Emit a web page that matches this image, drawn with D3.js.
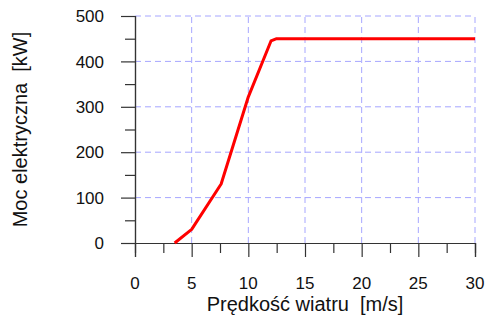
<!DOCTYPE html>
<html>
<head>
<meta charset="utf-8">
<script src="https://cdn.jsdelivr.net/npm/d3@7"></script>
<style>
  body { margin: 0; background: #fff; }
  text { font-family: "Liberation Sans", Arial, sans-serif; }
</style>
</head>
<body>
<svg id="chart" width="485" height="320"></svg>
<script>
// wind speed [m/s] and electrical power [kW]
const speed = [3.5, 5, 7.6, 10, 12, 12.5, 30];
const power = [0, 30, 130, 322, 445, 450, 450];
const xTicks = [0, 5, 10, 15, 20, 25, 30];
const yTicks = [0, 100, 200, 300, 400, 500];

const svg = d3.select("#chart"),
      margin = {top: 16, right: 10, bottom: 77, left: 135},
      width = +svg.attr("width"),
      height = +svg.attr("height");

const x = d3.scaleLinear().domain([0, 30]).range([margin.left, width - margin.right]);
const y = d3.scaleLinear().domain([0, 500]).range([height - margin.bottom, margin.top]);

const gridColor = "#a6a6ff";
const tickFont = 17;
const titleFont = 20;

// dashed grid
svg.append("g").selectAll("line")
    .data(xTicks.slice(1))
    .join("line")
    .attr("x1", d => x(d)).attr("x2", d => x(d))
    .attr("y1", y(0)).attr("y2", y(500))
    .attr("stroke", gridColor)
    .attr("stroke-dasharray", "6,4");

svg.append("g").selectAll("line")
    .data(yTicks.slice(1))
    .join("line")
    .attr("x1", x(0)).attr("x2", x(30))
    .attr("y1", d => y(d)).attr("y2", d => y(d))
    .attr("stroke", gridColor)
    .attr("stroke-dasharray", "6,4");

// x axis: major ticks every 5, minor every 2.5
const xAxis = d3.axisBottom(x).tickValues(xTicks).tickSize(14).tickFormat("");
const xAxisMinor = d3.axisBottom(x).tickValues(d3.range(2.5, 30, 5)).tickSize(10).tickFormat("");

const gx = svg.append("g")
    .attr("transform", `translate(0,${y(0)})`)
    .call(xAxis);
const gxm = svg.append("g")
    .attr("transform", `translate(0,${y(0)})`)
    .call(xAxisMinor);

// y axis: major ticks every 100, minor every 50
const yAxis = d3.axisLeft(y).tickValues(yTicks).tickSize(14).tickFormat("");
const yAxisMinor = d3.axisLeft(y).tickValues(d3.range(50, 500, 100)).tickSize(10).tickFormat("");

const gy = svg.append("g")
    .attr("transform", `translate(${x(0)},0)`)
    .call(yAxis);
const gym = svg.append("g")
    .attr("transform", `translate(${x(0)},0)`)
    .call(yAxisMinor);

[gx, gxm, gy, gym].forEach(g => {
    g.select(".domain").attr("stroke", "#333").attr("stroke-width", 1.2);
    g.selectAll(".tick line").attr("stroke", "#333").attr("stroke-width", 1.2);
});

// tick labels
svg.append("g").selectAll("text")
    .data(xTicks)
    .join("text")
    .attr("x", d => x(d))
    .attr("y", 289)
    .attr("text-anchor", "middle")
    .attr("font-size", tickFont)
    .attr("fill", "#111")
    .text(d => d);

svg.append("g").selectAll("text")
    .data(yTicks)
    .join("text")
    .attr("x", 104)
    .attr("y", d => y(d))
    .attr("dy", "0.36em")
    .attr("text-anchor", "end")
    .attr("font-size", tickFont)
    .attr("fill", "#111")
    .text(d => d);

// axis titles
svg.append("text")
    .attr("x", (x(0) + x(30)) / 2)
    .attr("y", 311)
    .attr("text-anchor", "middle")
    .attr("font-size", titleFont)
    .attr("fill", "#111")
    .style("white-space", "pre")
    .text("Prędkość wiatru  [m/s]");

svg.append("text")
    .attr("transform", "rotate(-90)")
    .attr("x", -(y(0) + y(500)) / 2)
    .attr("y", 27)
    .attr("text-anchor", "middle")
    .attr("font-size", titleFont)
    .attr("fill", "#111")
    .style("white-space", "pre")
    .text("Moc elektryczna  [kW]");

// power curve
const line = d3.line()
    .x((d, i) => x(speed[i]))
    .y(d => y(d));

svg.append("path")
    .datum(power)
    .attr("d", line)
    .attr("fill", "none")
    .attr("stroke", "#ff0000")
    .attr("stroke-width", 3)
    .attr("stroke-linejoin", "round");
</script>
</body>
</html>
